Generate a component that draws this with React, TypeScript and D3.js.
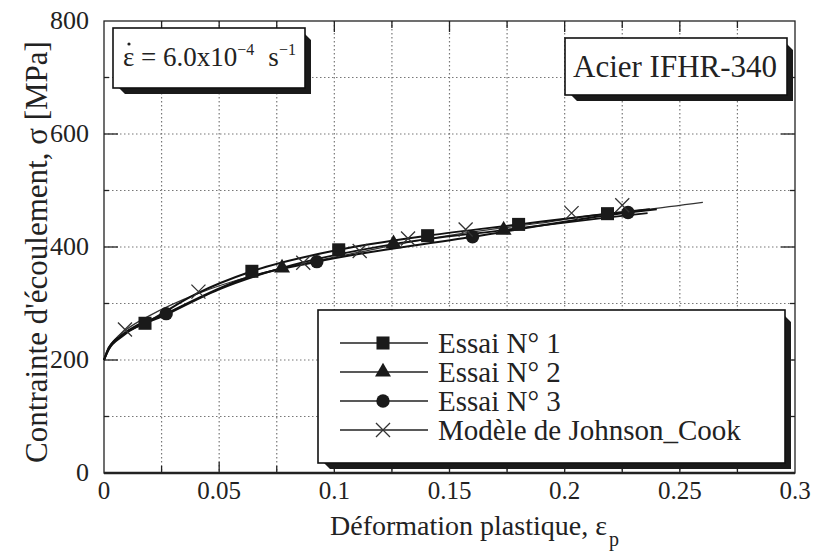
import React from 'react';
import * as d3 from 'd3';

type P = [number, number];

const xTicks = [0, 0.05, 0.1, 0.15, 0.2, 0.25, 0.3];
const xTickLabels = ['0', '0.05', '0.1', '0.15', '0.2', '0.25', '0.3'];
const yTicks = [0, 200, 400, 600, 800];
const yTickLabels = ['0', '200', '400', '600', '800'];
const xGridStep = 0.025;
const yGridStep = 100;

const seriesNames = ['Essai N° 1', 'Essai N° 2', 'Essai N° 3', 'Modèle de Johnson_Cook'];

const essai1Curve: P[] = [[0, 200], [0.002, 221], [0.008, 245], [0.0178, 265], [0.04, 317], [0.0642, 357], [0.1019, 395], [0.1405, 420], [0.18, 440], [0.2186, 459], [0.237, 467]];
const essai1Marks: P[] = [[0.0178, 265], [0.0642, 357], [0.1019, 395], [0.1405, 420], [0.18, 440], [0.2186, 459]];

const essai2Curve: P[] = [[0, 200], [0.002, 218], [0.008, 242], [0.027, 280], [0.05, 325], [0.0773, 363], [0.1257, 405], [0.1735, 430], [0.218, 452], [0.236, 460]];
const essai2Marks: P[] = [[0.0773, 363], [0.1257, 406], [0.1735, 430]];

const essai3Curve: P[] = [[0, 200], [0.002, 219], [0.008, 244], [0.027, 282], [0.06, 343], [0.0924, 374], [0.16, 418], [0.2275, 461], [0.24, 467]];
const essai3Marks: P[] = [[0.027, 282], [0.0924, 374], [0.16, 418], [0.2275, 461]];

const jcCurve: P[] = [[0, 200], [0.001, 214], [0.004, 233], [0.0091, 252], [0.02, 279], [0.041, 318], [0.065, 350], [0.09, 374], [0.111, 391], [0.132, 408], [0.157, 425], [0.189, 442], [0.21, 455], [0.235, 466], [0.26, 479]];
const jcMarks: P[] = [[0.0091, 254], [0.041, 321], [0.0865, 372], [0.111, 393], [0.132, 415], [0.157, 431], [0.203, 460], [0.225, 474]];

const W = 814;
const H = 555;

const x = d3.scaleLinear().domain([0, 0.3]).range([104, 795]);
const y = d3.scaleLinear().domain([0, 800]).range([473, 21]);

const line = d3.line<P>().x(d => x(d[0])).y(d => y(d[1])).curve(d3.curveMonotoneX);

const symSquare = d3.symbol().type(d3.symbolSquare).size(170)();
const symTri = d3.symbol().type(d3.symbolTriangle).size(110)();
const symCircle = d3.symbol().type(d3.symbolCircle).size(140)();
const symX = d3.symbol().type(d3.symbolX).size(130)();

const ts: React.CSSProperties = { fontFamily: '"Liberation Serif"' };

function ShadowBox({ x0, y0, w, h, s = 6 }: { x0: number; y0: number; w: number; h: number; s?: number }) {
  const pts = [
    [x0 + w, y0 + s],
    [x0 + w + s, y0 + 2 * s],
    [x0 + w + s, y0 + h + s],
    [x0 + 2 * s, y0 + h + s],
    [x0 + s, y0 + h],
    [x0 + w, y0 + h],
  ].map(p => p.join(',')).join(' ');
  return (
    <g>
      <polygon points={pts} fill="#1a1a1a" />
      <rect x={x0} y={y0} width={w} height={h} fill="#fff" stroke="#111" strokeWidth={1.6} />
    </g>
  );
}

function Marker({ d, tx, ty, stroke }: { d: string; tx: number; ty: number; stroke?: boolean }) {
  return stroke ? (
    <path d={d} transform={`translate(${tx},${ty})`} fill="none" stroke="#333" strokeWidth={1.3} />
  ) : (
    <path d={d} transform={`translate(${tx},${ty})`} fill="#1a1a1a" />
  );
}

export default function App() {
  const [x0, x1] = x.range();
  const [y0, y1] = y.range();
  const xGrid = d3.range(xGridStep, 0.3 - 1e-9, xGridStep);
  const yGrid = d3.range(yGridStep, 800 - 1e-9, yGridStep);
  const isMajorX = (v: number) => xTicks.some(t => Math.abs(t - v) < 1e-9);
  const isMajorY = (v: number) => yTicks.some(t => Math.abs(t - v) < 1e-9);

  const legendSyms = [symSquare, symTri, symCircle, symX];
  const legendRows = [343, 372, 401, 430];

  return (
    <svg width={W} height={H} style={{ position: 'absolute', left: 0, top: 0, background: '#fff' }}>
      <rect x={0} y={0} width={W} height={H} fill="#fff" />
      <g stroke="#777" strokeWidth={1.2} strokeDasharray="1.5,2.5">
        {xGrid.map(v => (
          <line key={'gx' + v} x1={x(v)} x2={x(v)} y1={y1} y2={y0} />
        ))}
        {yGrid.map(v => (
          <line key={'gy' + v} x1={x0} x2={x1} y1={y(v)} y2={y(v)} />
        ))}
      </g>
      <g stroke="#222" strokeWidth={1.3}>
        {xGrid.map(v => {
          const L = isMajorX(v) ? 11 : 7;
          return (
            <g key={'tx' + v}>
              <line x1={x(v)} x2={x(v)} y1={y0} y2={y0 - L} />
              <line x1={x(v)} x2={x(v)} y1={y1} y2={y1 + L} />
            </g>
          );
        })}
        {yGrid.map(v => {
          const L = isMajorY(v) ? 14 : 5;
          return (
            <g key={'ty' + v}>
              <line x1={x0} x2={x0 + L} y1={y(v)} y2={y(v)} />
              <line x1={x1} x2={x1 - L} y1={y(v)} y2={y(v)} />
            </g>
          );
        })}
      </g>
      <rect x={x0} y={y1} width={x1 - x0} height={y0 - y1} fill="none" stroke="#222" strokeWidth={1.3} />
      <line x1={x0} x2={x1} y1={y0} y2={y0} stroke="#222" strokeWidth={2.6} />

      <path d={line(jcCurve) || ''} fill="none" stroke="#333" strokeWidth={1.2} />
      <path d={line(essai3Curve) || ''} fill="none" stroke="#111" strokeWidth={2} />
      <path d={line(essai2Curve) || ''} fill="none" stroke="#111" strokeWidth={1.8} />
      <path d={line(essai1Curve) || ''} fill="none" stroke="#111" strokeWidth={2} />

      {essai1Marks.map((p, i) => <Marker key={'m1' + i} d={symSquare} tx={x(p[0])} ty={y(p[1])} />)}
      {essai2Marks.map((p, i) => <Marker key={'m2' + i} d={symTri} tx={x(p[0])} ty={y(p[1])} />)}
      {essai3Marks.map((p, i) => <Marker key={'m3' + i} d={symCircle} tx={x(p[0])} ty={y(p[1])} />)}
      {jcMarks.map((p, i) => <Marker key={'m4' + i} d={symX} tx={x(p[0])} ty={y(p[1])} stroke />)}

      {xTicks.map((v, i) => (
        <text key={'lx' + v} x={x(v)} y={499} textAnchor="middle" fontSize={25} fill="#222" style={ts}>{xTickLabels[i]}</text>
      ))}
      {yTicks.map((v, i) => (
        <text key={'ly' + v} x={89} y={y(v) + 8} textAnchor="end" fontSize={26} fill="#222" style={ts}>{yTickLabels[i]}</text>
      ))}

      <text x={330} y={535} fontSize={28} fill="#222" style={ts}>
        Déformation plastique, ε<tspan fontSize={20} dy={11} dx={2}>p</tspan>
      </text>
      <text transform="translate(47,252) rotate(-90)" textAnchor="middle" fontSize={31} fill="#222" style={ts}>
        Contrainte d'écoulement, σ [MPa]
      </text>

      <ShadowBox x0={113} y0={28} w={192} h={60} />
      <text x={123} y={66} fontSize={27} fill="#222" style={ts}>
        ε = 6.0x10<tspan fontSize={16} dy={-11}>−4</tspan>
        <tspan dy={11} dx={14}>s</tspan>
        <tspan fontSize={16} dy={-11}>−1</tspan>
      </text>
      <circle cx={129} cy={44} r={1.6} fill="#222" />

      <ShadowBox x0={565} y0={38} w={222} h={57} />
      <text x={573} y={77} fontSize={31} fill="#222" style={ts}>Acier IFHR-340</text>

      <ShadowBox x0={318} y0={310} w={467} h={153} />
      {seriesNames.map((name, i) => (
        <g key={'lg' + i}>
          <line x1={340} x2={428} y1={legendRows[i]} y2={legendRows[i]} stroke="#222" strokeWidth={1.4} />
          <Marker d={legendSyms[i]} tx={383} ty={legendRows[i]} stroke={i === 3} />
          <text x={438} y={legendRows[i] + 10} fontSize={29} fill="#222" style={ts}>{name}</text>
        </g>
      ))}
    </svg>
  );
}
